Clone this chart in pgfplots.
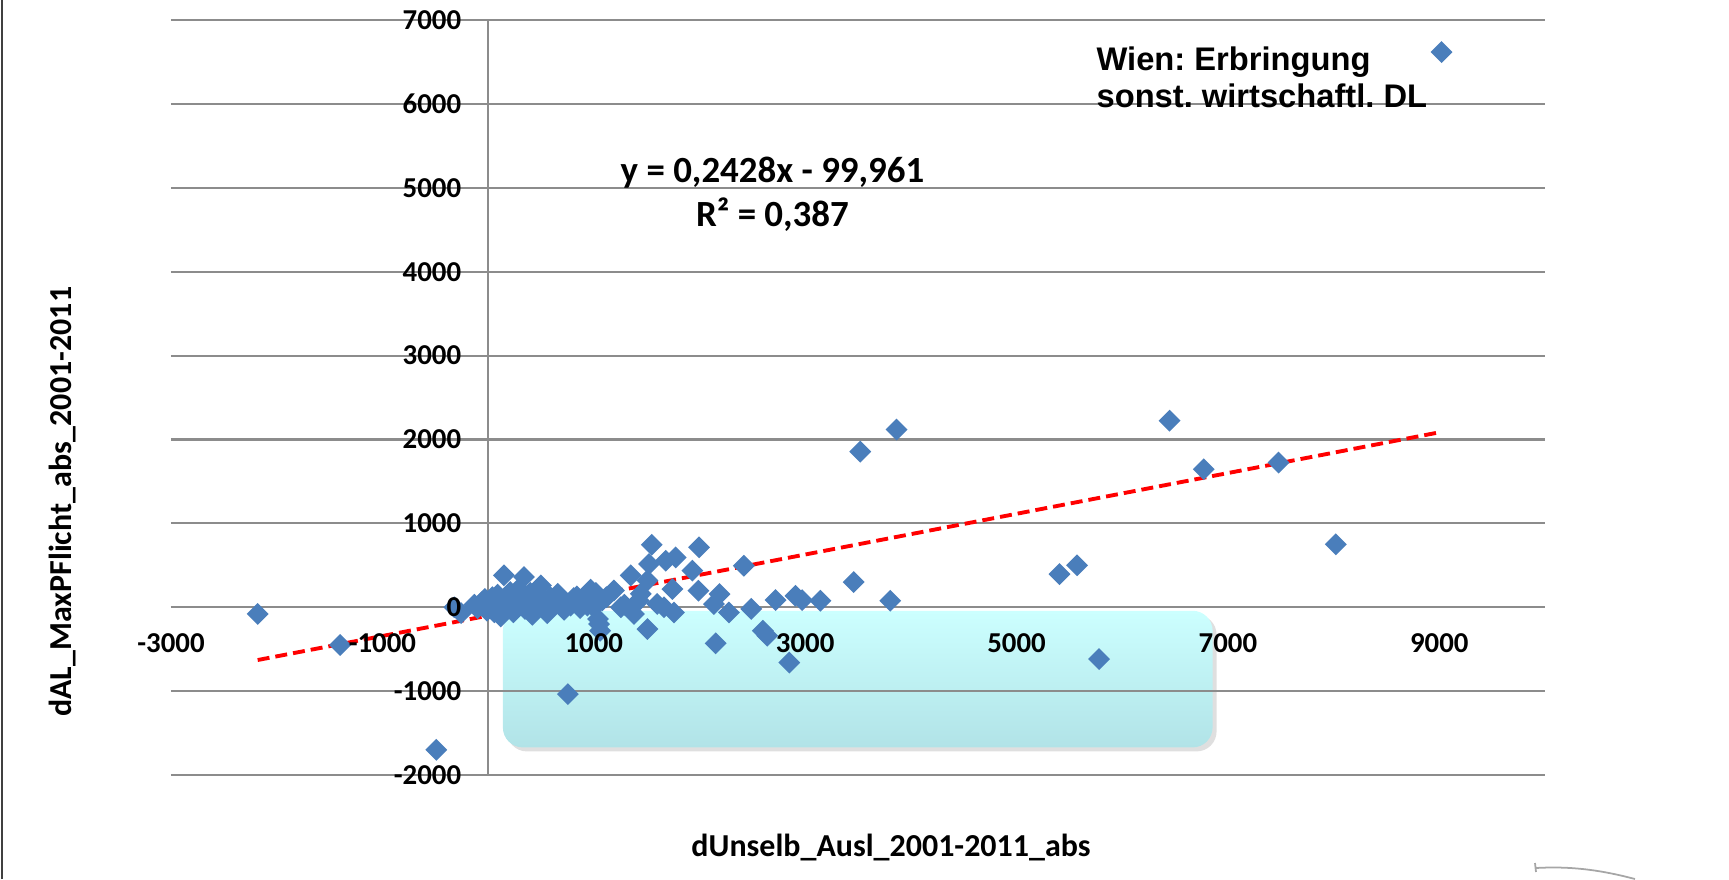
\documentclass[border=0pt]{standalone}
\usepackage{fontspec}
\setmainfont{Carlito}
\newfontfamily\arialfont[BoldFont={Liberation Sans Bold}]{Liberation Sans}
\usepackage{pgfplots}
\pgfplotsset{compat=1.18}
\usetikzlibrary{shadows}
\frenchspacing

\definecolor{markblue}{HTML}{4A7EBB}
\definecolor{gridgray}{HTML}{8C8C8C}
\definecolor{boxtop}{HTML}{CCFFFF}
\definecolor{boxbot}{HTML}{B1E3E7}

% tick labels above the markers, as in the original
\pgfplotsset{
  layers/labels on top/.define layer set={
    axis background, axis grid, axis ticks, axis lines, pre main, main,
    axis tick labels, axis descriptions, axis foreground
  }{/pgfplots/layers/standard},
}

% dUnselb_Ausl (x) vs dAL_MaxPFlicht (y)
\pgfplotstableread{
x y
-2180 -80
-1400 -450
-490 -1700
-320 0
-255 -70
-130 30
-100 -10
-60 60
-30 100
-10 -40
20 20
40 120
60 -60
90 150
100 60
120 -110
150 380
160 20
190 100
210 180
240 -60
260 40
290 220
310 130
340 360
350 -20
370 80
400 170
420 -90
450 50
480 140
500 260
530 30
560 -70
590 120
620 60
660 160
690 110
720 -30
750 40
755 -1035
780 20
810 110
840 130
870 -10
900 60
940 20
970 210
1000 0
1020 170
1040 -140
1050 -200
1060 -280
1080 80
1120 120
1190 200
1256 0
1290 30
1350 380
1380 -80
1426 80
1445 160
1508 320
1508 -260
1523 515
1549 745
1600 40
1665 0
1681 555
1744 217
1759 -62
1775 594
1933 436
1996 714
1990 197
2137 38
2153 -430
2190 157
2279 -62
2420 495
2490 -20
2600 -280
2641 -340
2720 85
2850 -660
2908 137
2971 85
3144 78
3459 300
3805 78
3521 1855
3865 2118
5406 395
5573 500
5781 -618
6448 2224
6771 1645
7479 1724
8021 750
9021 6618
}\scatterdata

\begin{document}
\begin{tikzpicture}
\begin{axis}[
  set layers=labels on top,
  scale only axis, width=137.4mm, height=75.5mm,
  xmin=-3000, xmax=10000, ymin=-2000, ymax=7000,
  scaled x ticks=false, scaled y ticks=false,
  axis lines=middle,
  axis line style={gridgray, line width=0.6pt, -},
  hide obscured x ticks=false, hide obscured y ticks=false,
  xtick={-3000,-1000,1000,3000,5000,7000,9000},
  xticklabels={-3000,-1000,1000,3000,5000,7000,9000},
  ytick={-2000,-1000,0,1000,2000,3000,4000,5000,6000,7000},
  yticklabels={-2000,-1000,0,1000,2000,3000,4000,5000,6000,7000},
  major tick length=0pt,
  ymajorgrids, grid style={gridgray, line width=0.6pt},
  ticklabel style={font=\bfseries\fontsize{8.2}{9}\selectfont},
  xticklabel style={anchor=north, yshift=-1.35mm},
  yticklabel style={anchor=east, xshift=-1.45mm},
  xlabel={dUnselb\_Ausl\_2001-2011\_abs},
  ylabel={dAL\_MaxPFlicht\_abs\_2001-2011},
  every axis x label/.style={at={(rel axis cs:0.524,0)}, yshift=-7.2mm, anchor=center,
    font=\bfseries\fontsize{9.1}{10}\selectfont},
  every axis y label/.style={at={(rel axis cs:0,0.362)}, xshift=-10.8mm, rotate=90, anchor=center,
    font=\bfseries\fontsize{9.1}{10}\selectfont},
  clip=false,
]
  % highlighted region, behind grid and labels
  \begin{pgfonlayer}{axis background}
  \draw[draw=none, rounded corners=2mm, top color=boxtop, bottom color=boxbot,
    drop shadow={shadow xshift=0.4mm, shadow yshift=-0.4mm, opacity=0.25}]
    (axis cs:140,-42) rectangle (axis cs:6855,-1671);
  \end{pgfonlayer}

  \addplot[only marks, mark=square*, mark size=2pt,
    mark options={rotate=45, fill=markblue, draw=markblue}] table[x=x, y=y] {\scatterdata};

  % linear trend
  \addplot[red, line width=1.1pt, dash pattern=on 1.2mm off 0.6mm] coordinates {(-2180,-629.3) (9021,2090.3)};

  \node[font=\bfseries\fontsize{10.5}{12.5}\selectfont, align=center] at (axis cs:2691,4922)
    {y = 0,2428x - 99,961\\R² = 0,387};
  \node[font=\arialfont\bfseries\fontsize{9.3}{10.7}\selectfont, align=left, anchor=west, inner sep=0pt]
    at (axis cs:5751,6316) {Wien: Erbringung\\sonst. wirtschaftl. DL};
\end{axis}
\pgfresetboundingbox
\path[use as bounding box] (-17.1mm,-10.4mm) rectangle (155.8mm,77.5mm);
\draw[black!75, line width=0.6pt] (-16.9mm,-10.4mm) -- (-16.9mm,77.5mm);
\draw[gray!70, line width=0.5pt] (136.4mm,-8.8mm) -- (136.5mm,-9.7mm);
\draw[gray!70, line width=0.5pt] (136.5mm,-9.3mm) .. controls (140mm,-9.1mm) and (143mm,-9.5mm) .. (146.4mm,-10.4mm);
\end{tikzpicture}
\end{document}
